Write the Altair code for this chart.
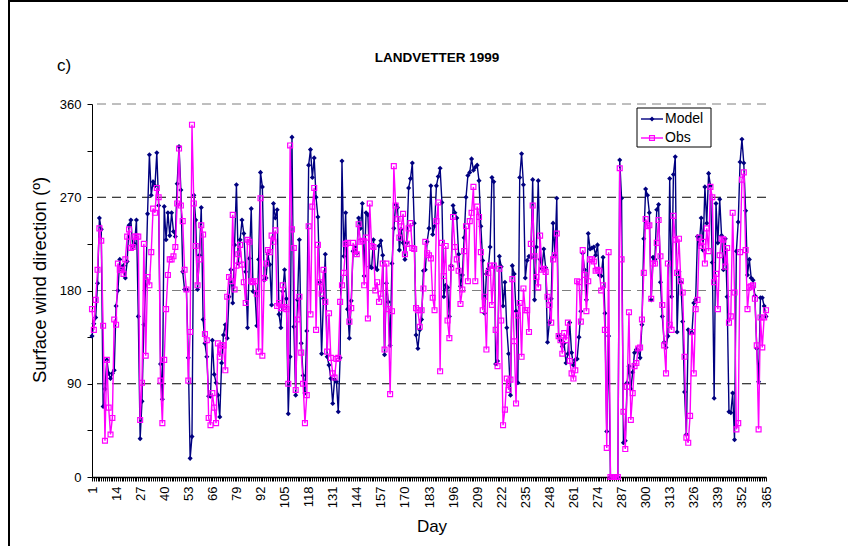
import altair as alt
import pandas as pd

# Daily surface wind direction (degrees), Landvetter 1999
days = list(range(1, 366))

model = [
    136, 148, 154, 187, 250, 239, 68, 85, 113, 100, 95, 100, 103, 165, 180, 210, 200, 204, 192, 208,
    243, 248, 222, 225, 248, 155, 37, 73, 147, 185, 254, 311, 272, 285, 281, 313, 262, 109, 75, 261,
    229, 255, 233, 255, 237, 232, 283, 319, 277, 198, 181, 181, 115, 18, 39, 272, 248, 181, 214, 260,
    152, 129, 116, 78, 78, 132, 99, 91, 79, 58, 110, 137, 147, 134, 174, 200, 168, 224, 282, 206,
    229, 248, 235, 198, 144, 211, 259, 179, 178, 146, 210, 294, 280, 190, 192, 215, 205, 166, 264, 250,
    258, 157, 144, 179, 200, 172, 61, 116, 328, 145, 79, 171, 229, 129, 98, 81, 141, 301, 316, 289,
    308, 270, 251, 188, 119, 172, 215, 116, 108, 95, 71, 94, 92, 63, 115, 305, 213, 255, 162, 134,
    170, 218, 222, 216, 250, 240, 264, 194, 255, 253, 203, 202, 229, 202, 200, 223, 228, 214, 118, 187,
    169, 127, 206, 240, 263, 260, 219, 239, 226, 210, 226, 279, 288, 303, 245, 137, 124, 142, 152, 199,
    200, 227, 240, 281, 234, 242, 281, 290, 298, 265, 174, 185, 183, 155, 204, 262, 255, 250, 215, 184,
    195, 231, 270, 291, 294, 307, 296, 299, 301, 286, 242, 209, 158, 196, 201, 222, 289, 285, 109, 112,
    213, 203, 165, 188, 144, 119, 79, 204, 196, 160, 91, 289, 312, 282, 192, 209, 213, 212, 287, 171,
    222, 286, 210, 201, 220, 202, 130, 149, 172, 245, 214, 269, 136, 132, 126, 129, 110, 119, 149, 120,
    108, 113, 114, 135, 160, 216, 200, 171, 235, 220, 221, 222, 214, 224, 195, 194, 212, 158, 44, 136,
    0, 0, 0, 0, 0, 306, 269, 33, 35, 91, 107, 85, 101, 120, 123, 122, 115, 147, 230, 278,
    272, 255, 171, 212, 210, 258, 263, 188, 155, 130, 125, 136, 288, 174, 292, 309, 140, 198, 188, 150,
    82, 41, 142, 139, 139, 168, 171, 232, 225, 250, 219, 280, 245, 293, 281, 207, 76, 264, 226, 268,
    233, 200, 230, 174, 63, 62, 81, 36, 218, 246, 304, 326, 303, 257, 195, 210, 192, 190, 175, 124,
    92, 173, 173, 165, 155,
]

obs = [
    162, 142, 171, 200, 240, 228, 146, 35, 113, 67, 41, 57, 152, 147, 206, 200, 200, 196, 210, 232,
    239, 221, 222, 232, 232, 232, 55, 91, 225, 117, 193, 185, 217, 259, 255, 279, 270, 93, 52, 113,
    162, 195, 210, 210, 213, 222, 264, 317, 262, 247, 200, 181, 93, 140, 340, 264, 223, 185, 210, 243,
    234, 138, 132, 57, 50, 81, 67, 52, 129, 116, 127, 127, 103, 174, 193, 189, 253, 181, 204, 215,
    224, 205, 188, 168, 229, 227, 189, 188, 189, 177, 121, 269, 117, 192, 206, 219, 217, 233, 227, 238,
    165, 168, 163, 185, 164, 162, 90, 320, 239, 221, 84, 152, 174, 120, 90, 52, 79, 242, 157, 261,
    279, 142, 224, 188, 177, 200, 169, 121, 158, 115, 100, 96, 114, 115, 169, 185, 197, 225, 226, 150,
    163, 226, 218, 215, 244, 227, 228, 185, 231, 153, 264, 223, 222, 180, 188, 169, 177, 206, 123, 206,
    162, 80, 160, 300, 262, 249, 231, 242, 254, 215, 225, 240, 245, 221, 220, 163, 161, 145, 161, 182,
    227, 216, 214, 211, 173, 161, 247, 265, 102, 226, 194, 223, 151, 134, 202, 251, 222, 210, 199, 167,
    181, 218, 242, 189, 247, 255, 280, 189, 261, 251, 217, 161, 174, 123, 197, 204, 166, 204, 142, 107,
    201, 151, 50, 65, 95, 84, 94, 191, 131, 71, 156, 168, 116, 182, 161, 161, 140, 225, 262, 213,
    193, 183, 233, 200, 201, 198, 174, 166, 149, 210, 214, 235, 136, 132, 119, 139, 132, 149, 112, 100,
    95, 103, 189, 188, 150, 219, 195, 160, 189, 210, 210, 208, 199, 200, 199, 180, 185, 142, 28, 217,
    0, 0, 0, 0, 0, 298, 210, 63, 27, 87, 159, 55, 81, 107, 110, 124, 125, 152, 197, 249,
    242, 243, 172, 206, 206, 226, 248, 213, 166, 127, 100, 206, 147, 142, 252, 229, 197, 230, 189, 178,
    116, 38, 33, 59, 140, 100, 162, 171, 231, 223, 227, 206, 240, 218, 280, 270, 188, 196, 162, 214,
    230, 229, 203, 221, 149, 155, 255, 178, 46, 52, 217, 287, 294, 219, 162, 183, 184, 185, 172, 127,
    46, 154, 125, 154, 161,
]

series_names = ["Model", "Obs"]
series_colors = ["#000080", "#FF00FF"]
series_shapes = ["diamond", "square"]

x_label_step = 13
y_label_step = 90
y_tick_values = list(range(0, 361, 45))
grid_levels = [90, 180, 270, 360]
grid_colors = ["#000000", "#7f7f7f", "#000000", "#7f7f7f"]

title_text = "LANDVETTER 1999"
panel_tag = "c)"
x_title = "Day"
y_title = "Surface wind direction (º)"

FONT = "Liberation Sans"
W, H = 674, 373

df = pd.DataFrame({
    "day": days * 2,
    "value": model + obs,
    "series": [series_names[0]] * len(model) + [series_names[1]] * len(obs),
})
grid_df = pd.DataFrame({"level": grid_levels, "c": grid_colors})

x_scale = alt.Scale(domain=[1, 365], nice=False, zero=False)
y_scale = alt.Scale(domain=[0, 360], nice=False, zero=True)

x_axis = alt.Axis(
    values=days,
    labelExpr=f"(datum.value - 1) % {x_label_step} == 0 ? datum.label : ''",
    labelAngle=270, labelOverlap=False, labelFlush=False, labelBound=False,
    labelFont=FONT, labelFontSize=13, labelColor="#000000", labelPadding=5,
    tickSize=4, tickColor="#000000", tickWidth=1,
    domainColor="#000000", domainWidth=1.5, grid=False, title=None,
)
y_axis = alt.Axis(
    values=y_tick_values,
    labelExpr=f"datum.value % {y_label_step} == 0 ? datum.label : ''",
    labelOverlap=False, labelFont=FONT, labelFontSize=13, labelColor="#000000",
    labelPadding=6, tickSize=5, tickColor="#000000",
    domainColor="#000000", domainWidth=1, grid=False, title=None,
)
x_enc = alt.X("day:Q", scale=x_scale, axis=x_axis)
y_enc = alt.Y("value:Q", scale=y_scale, axis=y_axis)

grid = alt.Chart(grid_df).mark_rule(strokeDash=[9, 6], strokeWidth=1).encode(
    y=alt.Y("level:Q", scale=y_scale, axis=y_axis),
    color=alt.Color("c:N", scale=None),
)

layers = [grid]
for name, col, shp in zip(series_names, series_colors, series_shapes):
    sub = alt.Chart(df[df["series"] == name])
    layers.append(sub.mark_line(color=col, strokeWidth=1.4).encode(x=x_enc, y=y_enc))
    if shp == "diamond":
        pts = sub.mark_point(shape="diamond", filled=True, color=col, size=26, opacity=1)
    else:
        pts = sub.mark_point(shape="square", filled=False, color=col, size=24,
                             strokeWidth=1.2, opacity=1)
    layers.append(pts.encode(x=x_enc, y=y_enc))

one = alt.Data(values=[{}])

# texts placed in pixels relative to the plot area
title_mark = alt.Chart(one).mark_text(
    text=title_text, font=FONT, fontSize=13.5, fontWeight="bold", color="#000000",
    align="center", baseline="middle",
).encode(x=alt.value(345), y=alt.value(-46))
tag_mark = alt.Chart(one).mark_text(
    text=panel_tag, font=FONT, fontSize=17, color="#000000", align="left", baseline="middle",
).encode(x=alt.value(-35), y=alt.value(-38))
xt_mark = alt.Chart(one).mark_text(
    text=x_title, font=FONT, fontSize=17, color="#000000", align="center", baseline="middle",
).encode(x=alt.value(340), y=alt.value(423))
yt_mark = alt.Chart(one).mark_text(
    text=y_title, font=FONT, fontSize=18.5, color="#000000", align="center", baseline="middle",
    angle=270,
).encode(x=alt.value(-52), y=alt.value(176))

# legend box
leg_box = alt.Chart(one).mark_rect(fill="#ffffff", stroke="#000000", strokeWidth=1).encode(
    x=alt.value(545), x2=alt.value(619), y=alt.value(4), y2=alt.value(43)
)
legend_layers = [leg_box]
for i, (name, col, shp) in enumerate(zip(series_names, series_colors, series_shapes)):
    yy = 15 + 19 * i
    legend_layers.append(alt.Chart(one).mark_rule(color=col, strokeWidth=1.4).encode(
        x=alt.value(549), x2=alt.value(571), y=alt.value(yy)))
    legend_layers.append(alt.Chart(one).mark_point(
        shape=shp, filled=(shp == "diamond"), color=col, size=24, opacity=1,
        strokeWidth=1.2).encode(x=alt.value(560), y=alt.value(yy)))
    legend_layers.append(alt.Chart(one).mark_text(
        text=name, font=FONT, fontSize=14, color="#000000", align="left", baseline="middle",
    ).encode(x=alt.value(573), y=alt.value(yy)))

# outer frame lines
frame_left = alt.Chart(one).mark_rule(color="#000000", strokeWidth=2).encode(
    x=alt.value(-83), y=alt.value(-104), y2=alt.value(442))
frame_top = alt.Chart(one).mark_rule(color="#000000", strokeWidth=2).encode(
    x=alt.value(-83), x2=alt.value(756), y=alt.value(-103))

chart = alt.layer(
    *layers, title_mark, tag_mark, xt_mark, yt_mark, *legend_layers, frame_left, frame_top
).properties(
    width=W, height=H, autosize="none",
    padding={"left": 92, "top": 104, "right": 89, "bottom": 69},
    background="#ffffff",
).configure_view(stroke=None)

chart.save("out.html", embed_options={"renderer": "svg", "actions": False})
